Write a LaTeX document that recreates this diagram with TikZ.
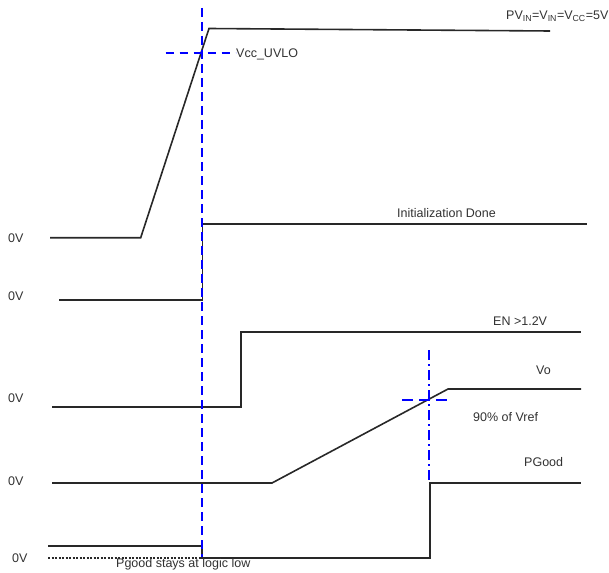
\documentclass[tikz,border=0pt]{standalone}
\usepackage{fontspec}
\setmainfont{Liberation Sans}
\usepackage{tikz}
\usetikzlibrary{arrows}
\usepackage{xcolor}
\definecolor{waveink}{RGB}{40,40,40}
\definecolor{textink}{RGB}{50,50,50}
\definecolor{markblue}{RGB}{0,0,255}

\begin{document}
\begin{tikzpicture}[
  x=1pt, y=-1pt,
  signal/.style={draw=waveink, line width=1.6pt},
  lowref/.style={draw=waveink, line width=1.3pt, dash pattern=on 2pt off 1.5pt},
  bluedash/.style={draw=markblue, line width=1.8pt, dash pattern=on 9pt off 5pt},
  bluedashdot/.style={draw=markblue, line width=2pt, dash pattern=on 10pt off 4pt on 2pt off 4pt},
  tag/.style={anchor=base west, inner sep=0pt, text=textink}
  ]
  \tikzstyle{every node}=[font=\fontsize{12.5}{15}\selectfont]
  \useasboundingbox (0,0) rectangle (609,572);

  % waveforms
  \draw[signal] (50,237.7) -- (140.7,237.7) -- (209,28.5) -- (550,31);
  \draw[signal] (59,300) -- (202.3,300) -- (202.3,224) -- (587,224);
  \draw[signal] (52,407) -- (241,407) -- (241,332) -- (581,332);
  \draw[signal] (52,483) -- (272,483) -- (448,389) -- (581,389);
  \draw[signal] (48,546) -- (202,546) -- (202,558) -- (430,558) -- (430,483) -- (581,483);
  \draw[lowref] (48,558) -- (202,558);

  % threshold markers
  \coordinate (uvlo) at (201.7,53.3);
  \coordinate (vref) at (429,400);
  \coordinate (uvlotop) at (201.7,8);
  \coordinate (uvlobot) at (201.7,557);
  \coordinate (vreftop) at (429,350);
  \coordinate (vrefbot) at (429,483);
  \draw[bluedash] (uvlotop) -- (uvlobot);
  \draw[bluedash, dash pattern=on 8pt off 6pt] ([xshift=-36pt]uvlo) -- ([xshift=34pt]uvlo);
  \draw[bluedashdot] (vreftop) -- (vrefbot);
  \draw[bluedash, dash pattern=on 11pt off 6pt] ([xshift=-27pt]vref) -- ([xshift=23pt]vref);

  % labels
  \node[tag] (supply) at (506,19.5) {PV\textsubscript{IN}=V\textsubscript{IN}=V\textsubscript{CC}=5V};
  \node[tag] (uvlotag) at (236,57.5) {Vcc\_UVLO};
  \node[tag] (init) at (397,217.5) {Initialization Done};
  \node[tag] (en) at (493,325) {EN >1.2V};
  \node[tag] (vo) at (536,374) {Vo};
  \node[tag] (vreftag) at (473,421.5) {90\% of Vref};
  \node[tag] (pgood) at (524,466.5) {PGood};
  \node[tag] (pglow) at (116,567.5) {Pgood stays at logic low};
  \node[tag] (zeroa) at (8,242.5) {0V};
  \node[tag] (zerob) at (8,300.5) {0V};
  \node[tag] (zeroc) at (8,402.5) {0V};
  \node[tag] (zerod) at (8,485.5) {0V};
  \node[tag] (zeroe) at (12,562.5) {0V};

\end{tikzpicture}
\end{document}
